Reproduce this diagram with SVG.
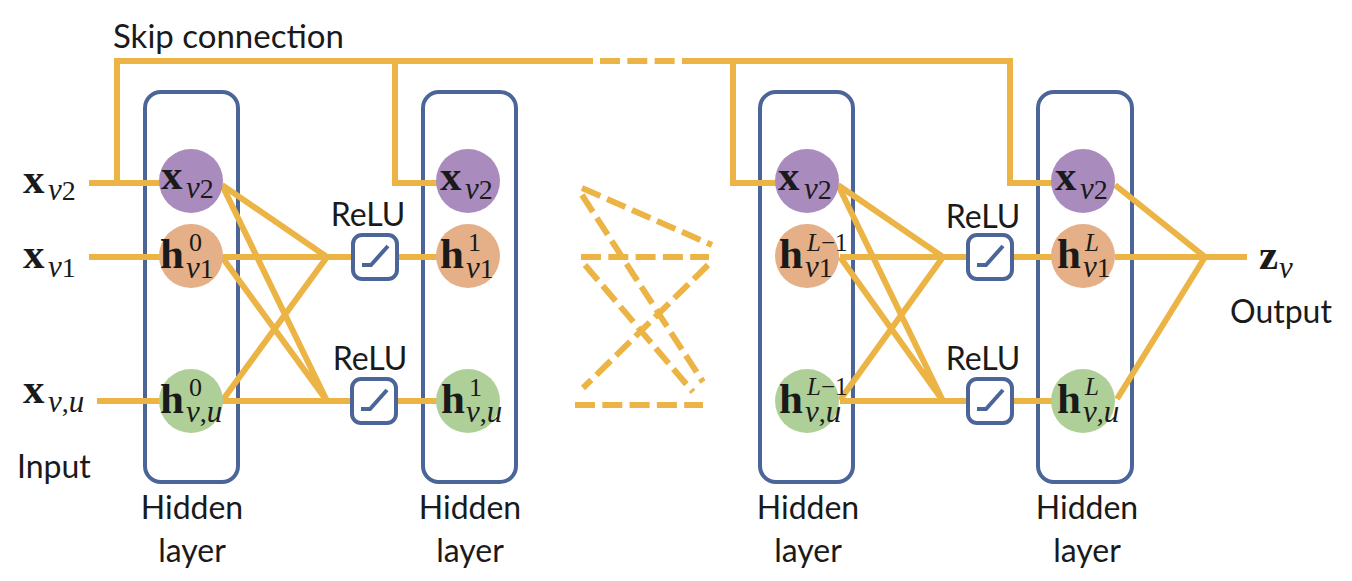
<svg xmlns="http://www.w3.org/2000/svg" width="1352" height="581" viewBox="0 0 1352 581">
<style>
.ln{fill:none;stroke:#EBB445;stroke-width:6;stroke-linejoin:miter;stroke-linecap:butt}
.dl{fill:none;stroke:#EBB445;stroke-width:6;stroke-dasharray:20 7.3}
.box{fill:none;stroke:#4B6599;stroke-width:4}
.rb{fill:#fff;stroke:#4B6599;stroke-width:4}
.ri{fill:none;stroke:#4B6599;stroke-width:4;stroke-linejoin:miter}
.pu{fill:#A98BBE}.or{fill:#E5AF88}.gr{fill:#AFCF99}
.m{font-family:"Liberation Serif","DejaVu Serif",serif;fill:#1a1a1a}
.b{font-weight:bold;font-size:43px}
.i{font-style:italic;font-size:31px}
.n{font-size:28px}
.p{font-size:26px}
.pi{font-style:italic;font-size:25px}
.pn{font-size:25px}
.t{font-family:Lato,"Liberation Sans",sans-serif;font-size:32px;fill:#1a1a1a}
.c{text-anchor:middle}
</style>
<rect width="1352" height="581" fill="#fff"/>
<g id="layer1"><rect class="box" x="145" y="92" width="93" height="390" rx="16"/><text class="t c" x="192" y="519">Hidden</text><text class="t c" x="192" y="562">layer</text></g>
<g id="layer2"><rect class="box" x="423" y="92" width="93" height="390" rx="16"/><text class="t c" x="470" y="519">Hidden</text><text class="t c" x="470" y="562">layer</text></g>
<g id="layer3"><rect class="box" x="760" y="92" width="93" height="390" rx="16"/><text class="t c" x="808" y="519">Hidden</text><text class="t c" x="808" y="562">layer</text></g>
<g id="layer4"><rect class="box" x="1038" y="92" width="94" height="390" rx="16"/><text class="t c" x="1087" y="519">Hidden</text><text class="t c" x="1087" y="562">layer</text></g>
<g id="connectors">
<path class="ln" d="M89,183 H160 M117,183 V61 H593 M682,61 H1010 V183 H1052 M395,61 V183 H437 M733,61 V183 H776"/>
<path class="dl" d="M600,61 H676"/>
<path class="ln" d="M89,257 H160 M97,401 H160"/>
<path class="ln" d="M222,185 L327,257 L222,401 M222,185 L327,401 L222,257 M222,257 H353 M222,401 H352 M397,257 H437 M396,401 H437"/>
<path class="ln" d="M838,185 L943,257 L840,400 M838,185 L943,401 L840,257 M840,257 H968 M840,401 H968 M1012,257 H1052 M1012,401 H1052"/>
<path class="ln" d="M1115,185 L1205,257 L1117,399 M1115,257 H1247"/>
<path class="dl" d="M582,188 L712,245 M581,257 H709 M582,195 L703,382 M585,265 L693,392 M708,265 L583,388 M575,405 H703"/>
</g>
<g id="relu1"><rect class="rb" x="353" y="235" width="44" height="44" rx="9"/><path class="ri" d="M362,265 H371 L388,246"/><text class="t c" x="368" y="226">ReLU</text></g>
<g id="relu2"><rect class="rb" x="352" y="379" width="44" height="44" rx="9"/><path class="ri" d="M361,409 H370 L387,390"/><text class="t c" x="370" y="370">ReLU</text></g>
<g id="relu3"><rect class="rb" x="968" y="235" width="44" height="44" rx="9"/><path class="ri" d="M977,265 H986 L1003,246"/><text class="t c" x="983" y="228">ReLU</text></g>
<g id="relu4"><rect class="rb" x="968" y="379" width="44" height="44" rx="9"/><path class="ri" d="M977,409 H986 L1003,390"/><text class="t c" x="983" y="370">ReLU</text></g>
<g id="input-labels">
<text class="m"><tspan class="b" x="23" y="193">x</tspan><tspan class="i" x="48" y="200">v</tspan><tspan class="n">2</tspan></text>
<text class="m"><tspan class="b" x="23" y="268">x</tspan><tspan class="i" x="48" y="277">v</tspan><tspan class="n">1</tspan></text>
<text class="m"><tspan class="b" x="23" y="403">x</tspan><tspan class="i" x="48" y="412">v</tspan><tspan class="n">,</tspan><tspan class="i">u</tspan></text>
<text class="t" x="17" y="478">Input</text>
</g>
<g id="l1-x"><circle class="pu" cx="191" cy="181" r="32"/><text class="m"><tspan class="b" x="161" y="189">x</tspan><tspan class="i" x="186" y="198">v</tspan><tspan class="n">2</tspan></text></g>
<g id="l1-h1"><circle class="or" cx="191" cy="256" r="32"/><text class="m"><tspan class="b" x="160" y="268">h</tspan><tspan class="p" x="189" y="251">0</tspan><tspan class="i" x="186" y="278">v</tspan><tspan class="n">1</tspan></text></g>
<g id="l1-hu"><circle class="gr" cx="191" cy="401" r="32"/><text class="m"><tspan class="b" x="160" y="413">h</tspan><tspan class="p" x="189" y="396">0</tspan><tspan class="i" x="186" y="422">v</tspan><tspan class="n">,</tspan><tspan class="i">u</tspan></text></g>
<g id="l2-x"><circle class="pu" cx="468" cy="181" r="32"/><text class="m"><tspan class="b" x="440" y="190">x</tspan><tspan class="i" x="465" y="199">v</tspan><tspan class="n">2</tspan></text></g>
<g id="l2-h1"><circle class="or" cx="468" cy="256" r="32"/><text class="m"><tspan class="b" x="440" y="268">h</tspan><tspan class="p" x="468" y="251">1</tspan><tspan class="i" x="466" y="278">v</tspan><tspan class="n">1</tspan></text></g>
<g id="l2-hu"><circle class="gr" cx="468" cy="401" r="32"/><text class="m"><tspan class="b" x="441" y="413">h</tspan><tspan class="p" x="469" y="396">1</tspan><tspan class="i" x="466" y="422">v</tspan><tspan class="n">,</tspan><tspan class="i">u</tspan></text></g>
<g id="l3-x"><circle class="pu" cx="807" cy="181" r="32"/><text class="m"><tspan class="b" x="778" y="190">x</tspan><tspan class="i" x="804" y="199">v</tspan><tspan class="n">2</tspan></text></g>
<g id="l3-h1"><circle class="or" cx="807" cy="256" r="32"/><text class="m"><tspan class="b" x="779" y="268">h</tspan><tspan class="pi" x="807" y="251">L</tspan><tspan class="pn">−1</tspan><tspan class="i" x="805" y="277">v</tspan><tspan class="n">1</tspan></text></g>
<g id="l3-hu"><circle class="gr" cx="807" cy="401" r="32"/><text class="m"><tspan class="b" x="779" y="413">h</tspan><tspan class="pi" x="807" y="395">L</tspan><tspan class="pn">−1</tspan><tspan class="i" x="805" y="422">v</tspan><tspan class="n">,</tspan><tspan class="i">u</tspan></text></g>
<g id="l4-x"><circle class="pu" cx="1083" cy="181" r="32"/><text class="m"><tspan class="b" x="1055" y="190">x</tspan><tspan class="i" x="1080" y="199">v</tspan><tspan class="n">2</tspan></text></g>
<g id="l4-h1"><circle class="or" cx="1083" cy="256" r="32"/><text class="m"><tspan class="b" x="1057" y="268">h</tspan><tspan class="pi" x="1085" y="251">L</tspan><tspan class="i" x="1083" y="277">v</tspan><tspan class="n">1</tspan></text></g>
<g id="l4-hu"><circle class="gr" cx="1083" cy="401" r="32"/><text class="m"><tspan class="b" x="1057" y="413">h</tspan><tspan class="pi" x="1085" y="395">L</tspan><tspan class="i" x="1083" y="422">v</tspan><tspan class="n">,</tspan><tspan class="i">u</tspan></text></g>
<g id="output-labels">
<text class="m"><tspan class="b" x="1259" y="269">z</tspan><tspan class="i" x="1279" y="278">v</tspan></text>
<text class="t" x="1230" y="323">Output</text>
<text class="t" x="113" y="48" style="font-size:33px">Skip connection</text>
</g>
</svg>
